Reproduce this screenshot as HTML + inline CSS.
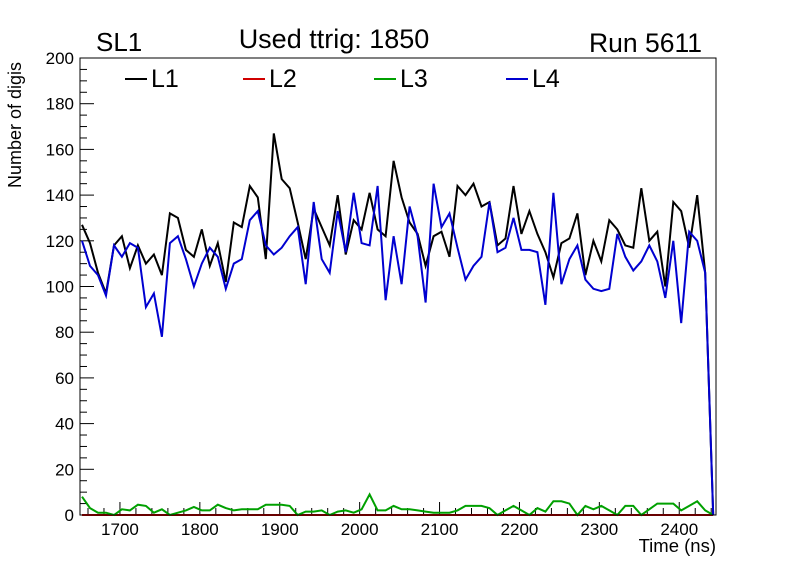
<!DOCTYPE html>
<html><head><meta charset="utf-8"><style>
body{margin:0;background:#fff;font-family:"Liberation Sans",sans-serif}
svg text{font-family:"Liberation Sans",sans-serif}
</style></head><body>
<svg id="c" width="796" height="572" xmlns="http://www.w3.org/2000/svg">
<rect width="796" height="572" fill="#fff"/>
<g id="axes"></g><g id="series"></g>
<rect x="80" y="58" width="636" height="457" fill="none" stroke="#000" stroke-width="1"/>
<text x="96" y="51" font-size="26">SL1</text>
<text x="334" y="48" font-size="27" text-anchor="middle">Used ttrig: 1850</text>
<text x="702" y="52" font-size="26.5" text-anchor="end">Run 5611</text>
<text x="716" y="552" font-size="18.5" text-anchor="end">Time (ns)</text>
<text transform="translate(21,188) rotate(-90)" font-size="18">Number of digis</text>
<g>
<g><line x1="125" y1="79" x2="147" y2="79" stroke="#000" stroke-width="2"/><text x="151" y="87" font-size="25">L1</text></g>
<g><line x1="243" y1="79" x2="265" y2="79" stroke="#d00000" stroke-width="2"/><text x="269" y="87" font-size="25">L2</text></g>
<g><line x1="374" y1="79" x2="396" y2="79" stroke="#00a000" stroke-width="2"/><text x="400" y="87" font-size="25">L3</text></g>
<g><line x1="506" y1="79" x2="528" y2="79" stroke="#0000d0" stroke-width="2"/><text x="532" y="87" font-size="25">L4</text></g>
</g>
</svg>
<script>
const l1Values=[127,119,106,97,118,122,108,118,110,114,105,132,130,116,113,125,109,119,102,128,126,144,139,112,167,147,143,128,112,134,126,118,140,114,129,125,141,125,122,155,139,128,123,109,122,124,113,144,140,145,135,137,118,121,144,123,133,123,115,104,119,121,132,105,120,111,129,125,118,117,143,120,124,100,137,133,117,140,106,0];
const l4Values=[120,109,105,96,118,113,119,117,91,97,78,119,122,112,100,110,117,113,99,110,112,129,133,118,114,117,122,126,101,137,112,106,133,115,141,119,118,144,94,122,101,135,122,93,145,126,132,117,103,109,113,137,115,117,130,116,116,115,92,141,101,112,118,103,99,98,99,123,113,107,111,118,111,95,120,84,124,120,106,0];
const l3Values=[8,3,1,1,0,2.5,2,4.5,4,1,2.5,0,1,2,3.5,2,2,4.5,3,2,2.5,2.5,2.5,4.5,4.5,4.5,4,0,1.5,1.5,2,0,1.5,2,1,2.5,9,2,2,4,2.5,2.5,2,1.5,1,1,1,2,4,4,4,3,0,2,4,2,0,3,1.5,6,6,5,0,4,2.5,4,2,0,4,4,0,2.5,5,5,5,2,4,6,2,0];
const l2Values=new Array(80).fill(0);
const xStart=1652.5, binWidth=10;
const yTicks=[0,20,40,60,80,100,120,140,160,180,200];
const xTicks=[1700,1800,1900,2000,2100,2200,2300,2400];
const X0=80,X1=716,Y0=515,Y1=58,xmin=1650,xmax=2446,ymin=0,ymax=200;
const xs=v=>X0+(v-xmin)/(xmax-xmin)*(X1-X0);
const ys=v=>Y0-(v-ymin)/(ymax-ymin)*(Y0-Y1);
const NS="http://www.w3.org/2000/svg";
const axes=document.getElementById('axes'),ser=document.getElementById('series');
function mk(tag,attrs,parent){const e=document.createElementNS(NS,tag);for(const k in attrs)e.setAttribute(k,attrs[k]);parent.appendChild(e);return e;}
for(let v=0;v<=200;v+=5){const major=v%20===0;
 const t=mk('line',{x1:X0,x2:X0+(major?14:7),y1:ys(v),y2:ys(v),stroke:'#000'},axes);
 
 }
yTicks.forEach(v=>{const t=mk('text',{x:74,y:ys(v)+6,'font-size':17,'text-anchor':'end'},axes);t.textContent=v;
 
 });
for(let v=1660;v<=2440;v+=20){const major=v%100===0;
 const t=mk('line',{x1:xs(v),x2:xs(v),y1:Y0,y2:Y0-(major?13:7),stroke:'#000'},axes);
 
 }
xTicks.forEach(v=>{const t=mk('text',{x:xs(v),y:535,'font-size':17,'text-anchor':'middle'},axes);t.textContent=v;
 
 });
function line(vals,color,name){const pts=vals.map((v,i)=>xs(xStart+binWidth*i).toFixed(1)+','+ys(v).toFixed(1)).join(' ');
 const p=mk('polyline',{points:pts,fill:'none',stroke:color,'stroke-width':2,'stroke-linejoin':'miter'},ser);
 
 }
line(l2Values,'#d00000','series-l2');
line(l3Values,'#00a000','series-l3');
line(l1Values,'#000000','series-l1');
line(l4Values,'#0000d0','series-l4');
</script>
</body></html>
